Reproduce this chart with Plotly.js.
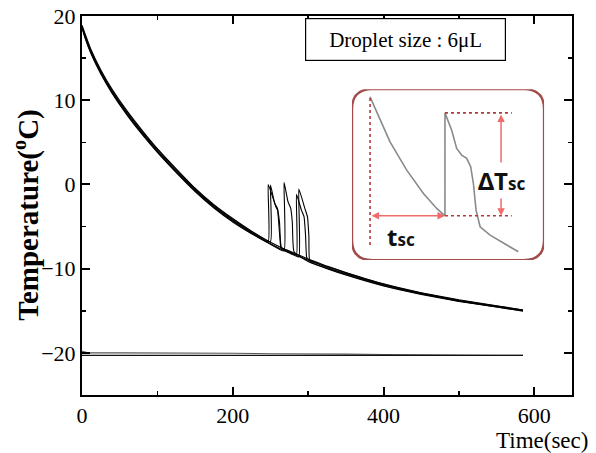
<!DOCTYPE html>
<html><head><meta charset="utf-8">
<script src="https://cdn.plot.ly/plotly-3.0.1.min.js"></script>
<style>html,body{margin:0;padding:0;background:#fff}</style>
</head><body><div id="chart" style="width:596px;height:453px"></div>
<script>
// ---- main cooling curves (time in sec, temperature in degC) ----
const baseTime = [0,4,12,25,40,60,80,100,125,150,175,200,225,250,275,300,325,350,400,450,500,550,585];
const tempA = [18.7,17.6,15.7,13.3,11.0,8.4,6.1,4.0,1.6,-0.65,-2.6,-4.25,-5.7,-6.95,-8.05,-9.0,-9.85,-10.6,-11.9,-12.95,-13.8,-14.5,-14.95];
const tempB = [18.9,17.9,16.0,13.6,11.3,8.7,6.4,4.25,1.85,-0.45,-2.4,-4.05,-5.55,-6.8,-7.9,-8.85,-9.7,-10.45,-11.8,-12.85,-13.7,-14.4,-14.9];
const tempC = [18.6,17.4,15.5,13.1,10.8,8.2,5.9,3.8,1.4,-0.85,-2.8,-4.45,-5.85,-7.1,-8.2,-9.15,-10.0,-10.75,-12.05,-13.05,-13.9,-14.55,-15.0];
const tempD = [18.8,17.7,15.85,13.45,11.15,8.55,6.25,4.15,1.75,-0.55,-2.5,-4.15,-5.6,-6.85,-7.95,-8.9,-9.75,-10.5,-11.85,-12.9,-13.75,-14.45,-14.9];
const tempE = [18.7,17.5,15.6,13.2,10.9,8.3,6.0,3.9,1.5,-0.75,-2.7,-4.35,-5.8,-7.05,-8.15,-9.1,-9.95,-10.7,-12.0,-13.0,-13.85,-14.55,-15.05];

// freezing (recalescence) spikes, one per curve
const spikeTimeA = [247,247,255,257.2,259.4,261.2,262.9,263.9];
const spikeTempA = [-6.8,0.0,-2.06,-2.66,-3.06,-4.84,-6.83,-7.5];
const spikeTimeB = [250,250,255.7,259.3,262,264.6];
const spikeTempB = [-6.8,-0.08,-2.26,-2.85,-4.5,-7.5];
const spikeTimeC = [268,268,273.3,276.9,279,281.3];
const spikeTempC = [-7.9,0.25,-2.06,-2.85,-4.5,-8.0];
const spikeTimeD = [284.5,284.5,291.1,294.6,296.5,298];
const spikeTempD = [-8.35,-1.18,-3.05,-3.84,-6.0,-8.65];
const spikeTimeE = [287.6,287.6,295.6,299.1,301,302.4];
const spikeTempE = [-8.6,-0.55,-2.84,-3.84,-6.2,-9.15];

// coolant / bath temperature near -20
const lowTime = [0,8,50,100,150,200,250,300,350,400,450,500,550,585];
const lowTemp1 = [-19.8,-20.0,-20.0,-20.0,-20.05,-20.05,-20.1,-20.1,-20.15,-20.2,-20.2,-20.25,-20.3,-20.3];
const lowTemp2 = [-20.3,-20.3,-20.35,-20.35,-20.35,-20.35,-20.35,-20.35,-20.35,-20.3,-20.3,-20.3,-20.3,-20.3];

// ---- inset schematic (arbitrary units 0-100) ----
const insetTime = [9.4,14.6,19.8,28.5,37.2,44.1,48.4,48.4,51.9,54.5,57.1,59.7,61.8,63.2,64.6,66.7,71.9,80.6,86.6];
const insetTemp = [95.5,81.9,69.2,52.6,39.0,30.2,25.9,86.1,76.0,65.3,61.4,59.5,54.6,44.8,29.2,19.5,14.6,8.8,4.9];
const guideRight = 83.2, guideBottom = 8.8, dTArrowX = 77.6;

const serif = 'Liberation Serif, Times New Roman, serif';
const tickFont = {family:serif, size:22, color:'#000'};

function withSpike(t, T, st, sT) {
  const x = [], y = [];
  t.forEach((ti, i) => { if (ti < st[0]) { x.push(ti); y.push(T[i]); } });
  st.forEach((ti, i) => { x.push(ti); y.push(sT[i]); });
  t.forEach((ti, i) => { if (ti > st[st.length-1]) { x.push(ti); y.push(T[i]); } });
  return {x, y};
}

const curves = [
  withSpike(baseTime, tempA, spikeTimeA, spikeTempA),
  withSpike(baseTime, tempB, spikeTimeB, spikeTempB),
  withSpike(baseTime, tempC, spikeTimeC, spikeTempC),
  withSpike(baseTime, tempD, spikeTimeD, spikeTempD),
  withSpike(baseTime, tempE, spikeTimeE, spikeTempE)
];

const traces = curves.map(c => ({
  x: c.x, y: c.y, type:'scatter', mode:'lines', line:{color:'#000', width:1.1, shape:'spline', smoothing:0.4},
  hoverinfo:'skip', showlegend:false
}));
traces.push({x: lowTime, y: lowTemp1, type:'scatter', mode:'lines', line:{color:'#555', width:1.1}, showlegend:false});
traces.push({x: lowTime, y: lowTemp2, type:'scatter', mode:'lines', line:{color:'#111', width:1.1}, showlegend:false});
traces.push({x: insetTime, y: insetTemp, type:'scatter', mode:'lines', xaxis:'x2', yaxis:'y2',
  line:{color:'#8a8a8a', width:1.6}, showlegend:false});

const scIdx = 6; // index where supercooling ends
const x0 = insetTime[0], xs = insetTime[scIdx];
const yLow = insetTemp[scIdx], yTop = insetTemp[scIdx+1];
const dashRed = {color:'#b03838', width:1.6, dash:'dot'};

const rx = 10.5, ry = 11.8;
const boxPath = `M ${rx},0 L ${100-rx},0 Q 100,0 100,${ry} L 100,${100-ry} Q 100,100 ${100-rx},100 L ${rx},100 Q 0,100 0,${100-ry} L 0,${ry} Q 0,0 ${rx},0 Z`;

const shapes = [
  {type:'path', xref:'x2', yref:'y2', path: boxPath, line:{color:'#a44a4a', width:2.4}},
  {type:'line', xref:'x2', yref:'y2', x0:x0, x1:x0, y0:guideBottom, y1:insetTemp[0], line:dashRed},
  {type:'line', xref:'x2', yref:'y2', x0:xs, x1:guideRight, y0:yTop, y1:yTop, line:dashRed},
  {type:'line', xref:'x2', yref:'y2', x0:xs, x1:guideRight, y0:yLow, y1:yLow, line:dashRed}
];

const arrowCol = '#f26a6a';
const sans = 'Noto Sans, Liberation Sans, sans-serif';
const annotations = [
  {xref:'x2', yref:'y2', axref:'x2', ayref:'y2', x:xs, y:yLow, ax:x0, ay:yLow, text:'', showarrow:true,
   arrowhead:2, startarrowhead:2, arrowside:'end+start', arrowsize:1, startarrowsize:1, arrowwidth:1.5, arrowcolor:arrowCol, standoff:0, startstandoff:0},
  {xref:'x2', yref:'y2', axref:'x2', ayref:'y2', x:dTArrowX, y:yLow, ax:dTArrowX, ay:yTop, text:'', showarrow:true,
   arrowhead:2, startarrowhead:2, arrowside:'end+start', arrowsize:1, startarrowsize:1, arrowwidth:1.5, arrowcolor:arrowCol, standoff:0, startstandoff:0},
  {xref:'x2', yref:'y2', x:78, y:46.5, text:'ΔT<span style="font-size:17px">sc</span>', showarrow:false,
   bgcolor:'#fff', font:{family:sans, size:24, color:'#111', weight:'bold'}},
  {xref:'x2', yref:'y2', x:25.5, y:14, text:'t<span style="font-size:17px">sc</span>', showarrow:false,
   font:{family:sans, size:24, color:'#111', weight:'bold'}},
  {xref:'paper', yref:'paper', x:0.661, y:0.938, xanchor:'center', yanchor:'middle', text:'Droplet size : 6μL', showarrow:false,
   width:197, height:39, bordercolor:'#000', borderwidth:1.2, bgcolor:'#fff',
   font:{family:serif, size:21, color:'#000'}},
  {xref:'paper', yref:'paper', x:1.037, y:-0.081, xanchor:'right', yanchor:'top', text:'Time(sec)', showarrow:false,
   font:{family:serif, size:23, color:'#000'}},
  {xref:'paper', yref:'paper', x:-0.114, y:0.476, xanchor:'center', yanchor:'middle', textangle:-90,
   text:'<b>Temperature(<sup>o</sup>C)</b>', showarrow:false,
   font:{family:serif, size:29, color:'#000'}}
];

const layout = {
  width:596, height:453,
  margin:{l:82, r:24, t:16, b:58},
  paper_bgcolor:'#fff', plot_bgcolor:'#fff',
  showlegend:false,
  xaxis:{range:[0,650], dtick:200, tick0:0, ticks:'inside', ticklen:8, tickwidth:2, tickcolor:'#000',
    minor:{dtick:100, ticks:'inside', ticklen:4, tickwidth:1.5, tickcolor:'#000'},
    showline:true, linecolor:'#000', linewidth:2, mirror:'allticks', showgrid:false, zeroline:false,
    tickfont:tickFont, ticklabelstandoff:0, fixedrange:true},
  yaxis:{range:[-25,20], dtick:10, tick0:0, ticks:'inside', ticklen:8, tickwidth:2, tickcolor:'#000',
    minor:{dtick:5, ticks:'inside', ticklen:4, tickwidth:1.5, tickcolor:'#000'},
    showline:true, linecolor:'#000', linewidth:2, mirror:'allticks', showgrid:false, zeroline:false,
    tickfont:tickFont, fixedrange:true},
  xaxis2:{domain:[0.551,0.943], range:[0,100], anchor:'y2', visible:false, fixedrange:true},
  yaxis2:{domain:[0.356,0.807], range:[0,100], anchor:'x2', visible:false, fixedrange:true},
  shapes: shapes,
  annotations: annotations
};

Plotly.newPlot('chart', traces, layout, {displayModeBar:false, staticPlot:true});
</script></body></html>
